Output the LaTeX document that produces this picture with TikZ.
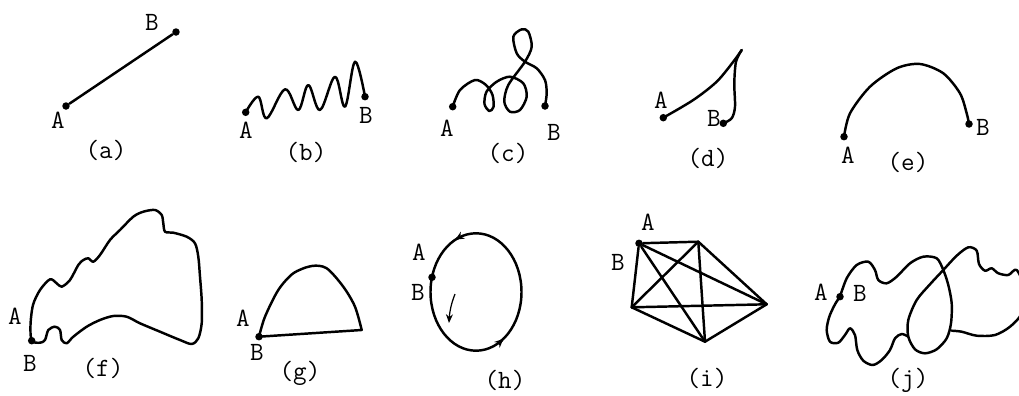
\documentclass[tikz,border=0pt]{standalone}
\usepackage{fontspec}
\usetikzlibrary{arrows.meta}

\begin{document}
\begin{tikzpicture}[
    x=0.02cm, y=-0.02cm,
    curve/.style={line width=1.4pt, line join=round, line cap=round},
    dot/.style={circle, fill, inner sep=0pt, minimum size=0.15cm},
    lbl/.style={font=\ttfamily\fontsize{15}{17}\selectfont, inner sep=0pt},
    tag/.style={font=\ttfamily\fontsize{15}{17}\selectfont, inner sep=0pt}
]
\useasboundingbox (0,0) rectangle (1019,396);

% (a) straight segment
\node[dot] (aA) at (66,106) {};
\node[dot] (aB) at (176,32) {};
\draw[curve] (aA) -- (aB);
\node[lbl] (aAl) at (58,120) {A};
\node[lbl] (aBl) at (152,22) {B};
\node[tag] (acap) at (106,150) {(a)};

% (b) wave
\node[dot] (bA) at (245.7,112.3) {};
\node[dot] (bB) at (365,96.7) {};
\draw[curve] plot[smooth, tension=0.6] coordinates {(bA.center) (258.3,96.7) (266.7,118.3)
    (285,89.3) (298.3,110) (308.3,85) (320,110) (335,76.7) (345,106.7) (355,61.7) (bB.center)};
\node[lbl] (bAl) at (246,130) {A};
\node[lbl] (bBl) at (366,115) {B};
\node[tag] (bcap) at (306,152) {(b)};

% (c) loops
\node[dot] (cA) at (452.7,106.7) {};
\node[dot] (cB) at (545,106) {};
\draw[curve] plot[smooth] coordinates {(cA.center) (460,90) (475,80) (486,85) (492.5,95)
    (493.5,107) (489.3,111) (484.5,104) (486.5,91.7) (496.7,81.7) (510,76.7)
    (523.3,83.3) (526.7,96.7) (520,110) (510,111.7) (504.3,101.7) (508.3,85) (525,61.7)
    (531.7,46.7) (528.3,31.7) (521.7,29.3) (513.3,36.7) (516.7,53.3) (525,61.7)
    (536.7,68.3) (545,80) (546.7,93.3) (cB.center)};
\node[lbl] (cAl) at (447,128) {A};
\node[lbl] (cBl) at (554,132) {B};
\node[tag] (ccap) at (508,153) {(c)};

% (d) cusp
\node[dot] (dA) at (663.3,117.7) {};
\node[dot] (dB) at (723.3,123.3) {};
\draw[curve] plot[smooth] coordinates {(dA.center) (693.3,100) (716.7,81.7) (733.3,61.7) (741.7,50)};
\draw[curve] plot[smooth] coordinates {(741.7,50) (736,61.7) (734.3,83.3) (735,106.7) (731.7,118.3) (dB.center)};
\node[lbl] (dAl) at (661,100) {A};
\node[lbl] (dBl) at (714,118) {B};
\node[tag] (dcap) at (708,158) {(d)};

% (e) arc
\node[dot] (eA) at (844,136.7) {};
\node[dot] (eB) at (969,124) {};
\draw[curve] plot[smooth] coordinates {(eA.center) (850,113.3) (870,86.7) (896.7,68.3)
    (920,64) (943.3,73.3) (960,93.3) (966.7,113.3) (eB.center)};
\node[lbl] (eAl) at (848,155) {A};
\node[lbl] (eBl) at (983,127) {B};
\node[tag] (ecap) at (908,162) {(e)};

% (f) closed wiggly curve
\node[dot] (fA) at (31.7,340.7) {};
\draw[curve] plot[smooth cycle] coordinates {(fA.center) (30.5,325) (33,305) (40,290)
    (50,279.3) (56.7,283.3) (61.7,286.7) (70,280) (78.3,265) (83.3,260) (88.3,258.3)
    (93.3,261.7) (100,255) (110,240) (120,230) (133.3,216.7) (143.3,211.7) (155,210)
    (161.7,215) (163.3,223.3) (165,231.7) (173.3,232.7) (186.7,236.7) (195,243.3)
    (198.3,256.7) (200,276.7) (201.7,300) (201.7,323.3) (198.3,338.3) (191.7,344)
    (180,340) (160,331.7) (140,323.3) (126.7,316.7) (113.3,316) (100,320) (86.7,326.7)
    (73.3,336.7) (66.7,343.3) (61.7,340) (60,330) (55,326.7) (48.3,330) (45,340) (40,342.7)};
\node[lbl] (fAl) at (15,316) {A};
\node[lbl] (fBl) at (30,363) {B};
\node[tag] (fcap) at (103,368) {(f)};

% (g) arch closed by a chord
\node[dot] (gA) at (259,336.7) {};
\coordinate (gE) at (361.7,330);
\draw[curve] plot[smooth] coordinates {(gA.center) (265,316.7) (278.3,290) (293.3,273.3)
    (311.7,266) (326.7,268.3) (343.3,286.7) (355,306.7) (gE)} -- (gA.center);
\node[lbl] (gAl) at (243,318) {A};
\node[lbl] (gBl) at (257,352) {B};
\node[tag] (gcap) at (300,373) {(g)};

% (h) ellipse
\coordinate (hc) at (476,292);
\draw[curve] (hc) ellipse [x radius=45.5, y radius=58.7];
\node[dot] (hA) at (432,277.3) {};
\draw[curve, -{Stealth[length=5pt, width=4.5pt]}] (456.8,238.8) -- (455.3,239.7);
\draw[curve, -{Stealth[length=5pt, width=4.5pt]}] (502.1,340.1) -- (503.4,338.9);
\draw[line width=0.7pt, -{Stealth[length=5pt, width=4pt]}] (455,294) .. controls (451,304) and (449.5,313) .. (449,323);
\node[lbl] (hAl) at (419,252) {A};
\node[lbl] (hBl) at (418,292) {B};
\node[tag] (hcap) at (505,380) {(h)};

% (i) complete graph on five points
\node[dot] (i1) at (639,243.3) {};
\coordinate (i2) at (698.3,241.7);
\coordinate (i3) at (766.7,304.3);
\coordinate (i4) at (705,341.7);
\coordinate (i5) at (631.7,307.3);
\foreach \u/\v in {1/2,1/3,1/4,1/5,2/3,2/4,2/5,3/4,3/5,4/5}
    \draw[curve] (i\u) -- (i\v);
\node[lbl] (iAl) at (648,222) {A};
\node[lbl] (iBl) at (618,262) {B};
\node[tag] (icap) at (707,378) {(i)};

% (j) self-crossing curve, cut at the right edge
\begin{scope}
\clip (0,0) rectangle (1019,396);
\node[dot] (jA) at (840,296.7) {};
\coordinate (jT) at (908.3,336.7);
\draw[curve] plot[smooth] coordinates {(jA.center) (846.7,278.3) (856.7,265) (868.3,261.7)
    (875,270) (878.3,280) (886.7,283.3) (896.7,276.7) (910,263.3) (923.3,256.7)
    (936.7,258.3) (943.3,270) (948.3,285) (951.7,303.3) (951,323.3) (946.7,338.3)
    (936.7,349.3) (925,353.3) (915,349.3) (jT) (908.3,320) (916.7,300) (930,284.3)
    (943.3,270) (956.7,255.7) (968.3,247.3) (976.7,250.7) (979,264) (985,270.7)
    (991.7,268.3) (998.3,273.3) (1008.3,275) (1016.7,270) (1025,290) (1021.7,313.3)
    (1010,326.7) (995,335) (976.7,335.7) (961.7,331.7) (951.7,330.7)};
\draw[curve] plot[smooth] coordinates {(jT) (901.7,334) (895,338.3) (890,350) (881.7,360)
    (872.7,365) (863.3,360.7) (857.3,350) (855,335) (850,328.3) (845,335) (838.3,342.7)
    (830,341.7) (826.7,330) (829.3,316.7) (835,304.3) (jA.center)};
\end{scope}
\node[lbl] (jAl) at (821,292) {A};
\node[lbl] (jBl) at (860,293) {B};
\node[tag] (jcap) at (908,380) {(j)};

\end{tikzpicture}
\end{document}
